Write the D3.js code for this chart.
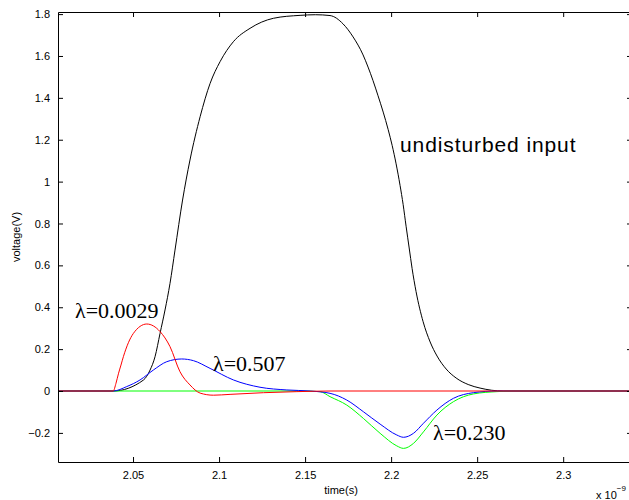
<!DOCTYPE html>
<html>
<head>
<meta charset="utf-8">
<script src="https://cdn.jsdelivr.net/npm/d3@7"></script>
<style>
  body { margin: 0; background: #fff; }
  svg { display: block; font-family: "Liberation Sans", Arial, Helvetica, sans-serif; }
  .axis text { font-size: 11px; fill: #000; }
  .axis path, .axis line { stroke: #000; }
</style>
</head>
<body>
<div id="chart"></div>
<script>
// time in units of 1e-9 s
const inputT = [2.0064, 2.0385, 2.056, 2.0599, 2.0628, 2.0657, 2.0686, 2.0715, 2.0744, 2.0788, 2.0831, 2.089, 2.0948, 2.1006, 2.1083, 2.118, 2.1316, 2.1471, 2.156, 2.1645, 2.1721, 2.1779, 2.1837, 2.1866, 2.1895, 2.1924, 2.1954, 2.1983, 2.2006, 2.2029, 2.2052, 2.207, 2.2087, 2.2105, 2.2122, 2.2145, 2.2186, 2.2227, 2.2267, 2.232, 2.2378, 2.2448, 2.2517, 2.2651, 2.34];
const inputV = [0, 0, 0.052, 0.1, 0.164, 0.275, 0.387, 0.514, 0.673, 0.912, 1.103, 1.31, 1.469, 1.573, 1.668, 1.732, 1.78, 1.794, 1.797, 1.793, 1.753, 1.691, 1.605, 1.547, 1.482, 1.41, 1.332, 1.248, 1.173, 1.085, 0.982, 0.89, 0.787, 0.683, 0.585, 0.475, 0.331, 0.234, 0.167, 0.105, 0.062, 0.031, 0.014, 0, 0];

const redT = [2.0064, 2.0385, 2.0401, 2.0416, 2.043, 2.0444, 2.0502, 2.058, 2.0657, 2.0715, 2.0773, 2.0831, 2.089, 2.0967, 2.1064, 2.1258, 2.1452, 2.1645, 2.34];
const redV = [0, 0, 0.037, 0.085, 0.124, 0.164, 0.275, 0.32, 0.284, 0.212, 0.092, 0.029, -0.01, -0.02, -0.016, -0.008, -0.003, 0, 0];

const blueT = [2.0064, 2.0385, 2.0463, 2.0541, 2.0618, 2.0696, 2.0783, 2.0851, 2.0948, 2.1083, 2.1238, 2.1394, 2.1529, 2.1645, 2.1742, 2.1839, 2.1936, 2.2033, 2.2072, 2.213, 2.2188, 2.2266, 2.2362, 2.2478, 2.2615, 2.34];
const blueV = [0, 0, 0.021, 0.053, 0.1, 0.14, 0.153, 0.145, 0.108, 0.053, 0.018, 0.005, 0, -0.011, -0.043, -0.099, -0.158, -0.21, -0.221, -0.202, -0.154, -0.091, -0.035, -0.008, 0, 0];

const greenT = [2.0064, 2.1471, 2.1587, 2.1645, 2.1742, 2.1839, 2.1936, 2.2033, 2.2072, 2.213, 2.2188, 2.2266, 2.2362, 2.2478, 2.2615, 2.2721, 2.34];
const greenV = [0, 0, -0.003, -0.027, -0.067, -0.131, -0.202, -0.262, -0.274, -0.25, -0.195, -0.115, -0.051, -0.014, -0.003, 0, 0];

const xTicks = [2.05, 2.1, 2.15, 2.2, 2.25, 2.3];
const yTicks = [-0.2, 0, 0.2, 0.4, 0.6, 0.8, 1, 1.2, 1.4, 1.6, 1.8];

const width = 629, height = 500;
const box = { left: 58, right: 632, top: 12, bottom: 462 };

const svg = d3.select("#chart").append("svg")
    .attr("width", width)
    .attr("height", height);

const x = d3.scaleLinear().domain([2.0064, 2.34]).range([box.left, box.right]);
const y = d3.scaleLinear().domain([-0.339, 1.81]).range([box.bottom, box.top]);

const fmt = d => String(+d.toFixed(2)).replace("-", "\u2212");

// clip the curves to the axes box
svg.append("clipPath").attr("id", "box")
    .append("rect")
    .attr("x", box.left).attr("y", box.top)
    .attr("width", box.right - box.left).attr("height", box.bottom - box.top);

const line = d3.line().x(d => x(d[0])).y(d => y(d[1])).curve(d3.curveMonotoneX);

const series = [
    { t: inputT, v: inputV, color: "#000000" },
    { t: greenT, v: greenV, color: "#00ff00" },
    { t: blueT, v: blueV, color: "#0000ff" },
    { t: redT, v: redV, color: "#ff0000" }
];

const plot = svg.append("g").attr("clip-path", "url(#box)");
series.forEach(s => {
    plot.append("path")
        .datum(d3.zip(s.t, s.v))
        .attr("fill", "none")
        .attr("stroke", s.color)
        .attr("stroke-width", 1)
        .attr("d", line);
});

// axes with inward ticks, box on all four sides
svg.append("g").attr("class", "axis")
    .attr("transform", `translate(0,${box.bottom})`)
    .call(d3.axisBottom(x).tickValues(xTicks).tickFormat(fmt).tickSizeInner(-5).tickSizeOuter(0).tickPadding(9));
svg.append("g").attr("class", "axis")
    .attr("transform", `translate(0,${box.top})`)
    .call(d3.axisTop(x).tickValues(xTicks).tickFormat("").tickSizeInner(-5).tickSizeOuter(0));
svg.append("g").attr("class", "axis")
    .attr("transform", `translate(${box.left},0)`)
    .call(d3.axisLeft(y).tickValues(yTicks).tickFormat(fmt).tickSizeInner(-5).tickSizeOuter(0).tickPadding(8));
svg.append("g").attr("class", "axis")
    .attr("transform", `translate(${box.right},0)`)
    .call(d3.axisRight(y).tickValues(yTicks).tickFormat("").tickSizeInner(-5).tickSizeOuter(0));

// axis titles
svg.append("text")
    .attr("x", 341).attr("y", 494)
    .attr("text-anchor", "middle")
    .style("font-size", "11px")
    .text("time(s)");

svg.append("text")
    .attr("transform", "translate(20,237) rotate(-90)")
    .attr("text-anchor", "middle")
    .style("font-size", "11px")
    .text("voltage(V)");

const expo = svg.append("text")
    .attr("x", 596).attr("y", 499)
    .style("font-size", "11px");
expo.append("tspan").text("x 10");
expo.append("tspan").attr("dy", -8).style("font-size", "8px").text("\u22129");

// curve annotations
svg.append("text")
    .attr("x", 400).attr("y", 152)
    .style("font-size", "21px")
    .style("letter-spacing", "0.9px")
    .text("undisturbed input");

const serif = "'Liberation Serif', 'Times New Roman', serif";
[
    { label: "\u03bb=0.0029", px: 75, py: 318 },
    { label: "\u03bb=0.507", px: 213, py: 371 },
    { label: "\u03bb=0.230", px: 433, py: 440 }
].forEach(a => {
    svg.append("text")
        .attr("x", a.px).attr("y", a.py)
        .style("font-family", serif)
        .style("font-size", "22px")
        .text(a.label);
});
</script>
</body>
</html>
